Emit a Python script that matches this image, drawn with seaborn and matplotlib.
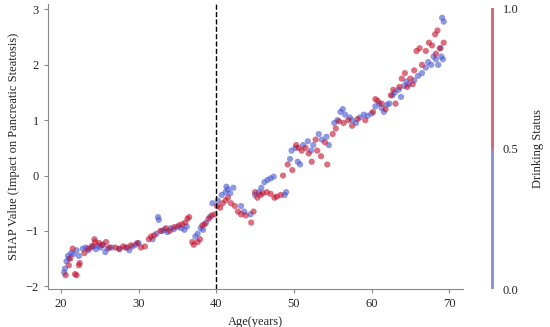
import numpy as np
import pandas as pd
import matplotlib
matplotlib.use("Agg")
import matplotlib.pyplot as plt
from matplotlib.colors import ListedColormap, BoundaryNorm
from matplotlib.colorbar import ColorbarBase
import seaborn as sns

# non-drinkers (status 0)
age_0 = [20.4, 20.5, 20.7, 20.9, 21.0, 21.3, 21.6, 22.0, 22.3, 22.8, 23.2, 23.5, 23.9, 24.2,
         24.5, 24.8, 25.1, 25.4, 25.7, 26.0, 26.5, 27.5, 28.3, 28.8, 29.2, 29.6, 30.0, 31.8,
         32.3, 32.5, 32.6, 33.0, 33.3, 33.7, 34.1, 34.5, 35.0, 35.5, 35.9, 36.2, 37.3, 37.6,
         38.0, 38.3, 38.7, 39.2, 39.5, 40.2, 40.7, 41.2, 41.3, 41.5, 41.8, 42.2, 43.2, 43.6,
         44.4, 45.0, 45.5, 45.8, 46.2, 46.6, 47.0, 47.4, 48.8, 49.0, 49.5, 49.7, 50.2, 50.5,
         50.8, 51.2, 51.8, 52.2, 52.5, 53.2, 53.6, 54.2, 54.5, 55.2, 55.6, 56.0, 56.3, 56.6,
         57.2, 57.5, 58.0, 58.5, 59.0, 59.5, 60.0, 60.5, 61.0, 61.3, 61.6, 62.0, 62.3, 62.7,
         63.0, 63.5, 63.8, 64.2, 64.5, 64.8, 65.5, 66.0, 66.5, 67.0, 67.3, 67.7, 68.0, 68.3,
         68.6, 68.9, 69.1, 69.3, 69.2, 69.0]
shap_0 = [-1.75, -1.68, -1.55, -1.45, -1.50, -1.40, -1.42, -1.35, -1.45, -1.32, -1.30, -1.35, -1.30, -1.28,
          -1.33, -1.27, -1.30, -1.25, -1.38, -1.32, -1.30, -1.33, -1.30, -1.35, -1.28, -1.25, -1.22, -1.15,
          -1.05, -0.75, -0.80, -1.00, -0.98, -1.02, -0.95, -0.97, -0.93, -0.95, -0.98, -0.92, -1.10, -1.05,
          -0.95, -0.98, -0.85, -0.75, -0.50, -0.45, -0.35, -0.30, -0.20, -0.25, -0.32, -0.22, -0.55, -0.65,
          -0.70, -0.35, -0.30, -0.22, -0.12, -0.08, -0.05, -0.02, -0.35, -0.30, 0.30, 0.45, 0.50, 0.25,
          0.20, 0.55, 0.62, 0.45, 0.55, 0.75, 0.65, 0.70, 0.55, 0.95, 1.00, 1.15, 1.20, 1.10,
          1.05, 1.00, 0.95, 1.05, 1.10, 1.08, 1.12, 1.25, 1.30, 1.22, 1.15, 1.28, 1.30, 1.45,
          1.50, 1.55, 1.42, 1.62, 1.70, 1.65, 1.72, 1.80, 1.85, 1.95, 2.05, 2.00, 2.15, 2.10,
          2.00, 2.30, 2.85, 2.78, 2.10, 2.15]

# drinkers (status 1)
age_1 = [20.6, 21.0, 21.2, 21.5, 21.8, 22.0, 22.3, 22.4, 23.0, 23.5, 24.0, 24.3, 24.4, 24.9,
         25.3, 25.8, 26.2, 27.0, 27.5, 28.0, 28.5, 29.0, 29.8, 30.3, 30.8, 31.3, 31.6, 32.0,
         32.8, 33.5, 34.0, 34.6, 35.2, 35.6, 36.0, 36.3, 36.5, 36.9, 37.1, 37.6, 37.9, 38.2,
         38.5, 39.0, 39.4, 39.8, 40.1, 40.5, 40.8, 41.2, 41.5, 41.9, 42.4, 42.8, 43.2, 43.8,
         44.5, 44.8, 45.0, 45.3, 45.7, 46.0, 46.5, 47.0, 47.5, 47.8, 48.3, 48.6, 49.2, 49.8,
         50.3, 50.6, 51.0, 51.5, 51.9, 52.3, 52.8, 53.0, 53.5, 54.0, 54.3, 55.0, 55.4, 55.8,
         56.4, 57.0, 57.5, 58.2, 59.2, 60.2, 60.5, 60.8, 61.3, 61.8, 62.5, 62.8, 63.1, 63.6,
         63.9, 64.3, 64.6, 65.0, 65.3, 65.5, 65.8, 66.2, 66.5, 67.0, 67.4, 67.8, 68.2, 68.5,
         68.3, 68.8, 69.3]
shap_1 = [-1.80, -1.62, -1.50, -1.32, -1.78, -1.80, -1.62, -1.58, -1.40, -1.32, -1.27, -1.15, -1.20, -1.22,
          -1.25, -1.20, -1.30, -1.30, -1.32, -1.28, -1.30, -1.26, -1.22, -1.30, -1.28, -1.15, -1.10, -1.08,
          -1.00, -0.95, -1.00, -0.93, -0.90, -0.88, -0.85, -0.78, -0.75, -1.20, -1.25, -1.20, -1.15, -0.90,
          -0.88, -0.78, -0.72, -0.70, -0.55, -0.58, -0.50, -0.45, -0.40, -0.50, -0.55, -0.65, -0.70, -0.72,
          -0.85, -0.65, -0.30, -0.40, -0.35, -0.32, -0.30, -0.33, -0.40, -0.38, -0.35, 0.00, 0.20, 0.10,
          0.55, 0.50, 0.45, 0.50, 0.40, 0.25, 0.65, 0.45, 0.35, 0.60, 0.20, 0.75, 0.85, 0.98,
          0.95, 1.00, 0.90, 1.02, 1.00, 1.15, 1.38, 1.35, 1.30, 1.20, 1.45, 1.55, 1.30, 1.60,
          1.75, 1.85, 1.60, 1.75, 1.65, 1.90, 2.25, 2.30, 2.00, 2.25, 2.40, 2.35, 2.55, 2.62,
          2.20, 2.30, 2.40]

blue = "#4455d0"
red = "#c0102c"

df = pd.DataFrame({
    "age": age_0 + age_1,
    "shap": shap_0 + shap_1,
    "drink": [0] * len(age_0) + [1] * len(age_1),
})

sns.set_style("ticks")
plt.rcParams["font.family"] = ["Liberation Serif", "DejaVu Serif"]

fig = plt.figure(figsize=(5.5, 3.27), dpi=100)
ax = fig.add_axes([0.087, 0.116, 0.755, 0.872])

sns.scatterplot(data=df, x="age", y="shap", hue="drink", palette={0: blue, 1: red},
                s=20, alpha=0.6, linewidth=0, legend=False, ax=ax)
ax.axvline(40, color="black", linestyle="--", linewidth=1)

ax.set_xlim(18.3, 71.8)
ax.set_ylim(-2.05, 3.1)
ax.set_xticks([20, 30, 40, 50, 60, 70])
ax.set_yticks([-2, -1, 0, 1, 2, 3])
ax.set_xlabel("Age(years)", fontsize=9)
ax.set_ylabel("SHAP Value (Impact on Pancreatic Steatosis)", fontsize=9)
ax.tick_params(labelsize=9, length=3, color="#888888", width=0.8)
for side in ["top", "right"]:
    ax.spines[side].set_visible(False)
for side in ["left", "bottom"]:
    ax.spines[side].set_color("#888888")
    ax.spines[side].set_linewidth(0.8)

# colorbar
cax = fig.add_axes([0.893, 0.116, 0.006, 0.859])
cmap = ListedColormap(["#8a93e2", "#d46c80"])
cb = ColorbarBase(cax, cmap=cmap, norm=BoundaryNorm([0, 0.5, 1], 2), ticks=[0.0, 0.5, 1.0])
cb.outline.set_visible(False)
cb.ax.set_yticklabels(["0.0", "0.5", "1.0"])
cb.ax.tick_params(labelsize=9, length=0, pad=6)
cb.set_label("Drinking Status", fontsize=9, labelpad=10)

fig.savefig("out.png", dpi=100)
